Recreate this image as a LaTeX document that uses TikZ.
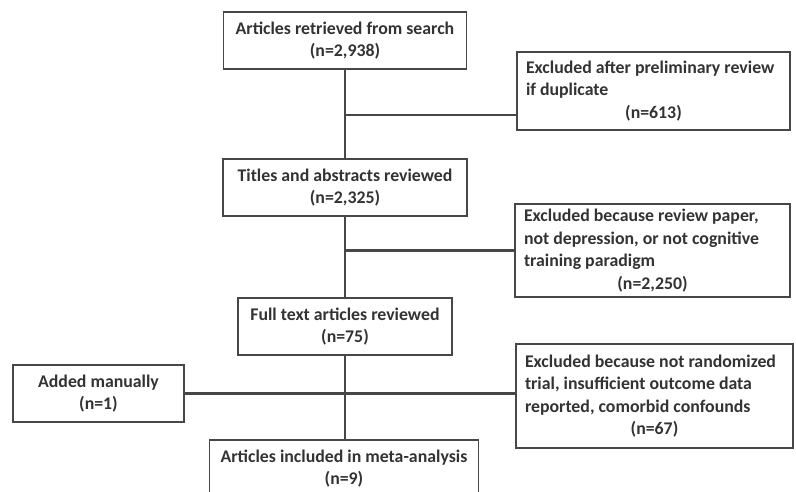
\documentclass[tikz,border=0pt]{standalone}
\usepackage{fontspec}
\setmainfont{Carlito}
\newcommand{\ctrline}[1]{\hspace*{\fill}#1\hspace*{\fill}}
\begin{document}
\begin{tikzpicture}[x=1pt, y=-1pt, color=black!72, line width=2.6pt]
\useasboundingbox (0,0) rectangle (796,491);
   \begin{scope}[every node/.style={rectangle,draw=black!72,line width=1.8pt,fill=white,text=black!80,
        font=\fontsize{17.8}{22.5}\selectfont\bfseries,inner sep=0pt,align=center,minimum height=57pt}]
\node (retrieved) at (345,40.5) [minimum width=243pt] {Articles retrieved from search\\(n=2,938)};
\node (titles) at (345,187.5) [minimum width=244pt] {Titles and abstracts reviewed\\(n=2,325)};
\node (fulltext) at (345,326.5) [minimum width=214pt] {Full text articles reviewed\\(n=75)};
\node (included) at (344,468.5) [minimum width=269pt] {Articles included in meta-analysis\\(n=9)};
\node (added) at (98.5,393.5) [minimum width=171pt] {Added manually\\(n=1)};

\node (dup) at (653.5,91) [text width=255pt,inner xsep=9pt,align=flush left,minimum height=78pt]
   {Excluded after preliminary review\\if duplicate\\\ctrline{(n=613)}};
\node (review) at (652.5,250.5) [text width=257pt,inner xsep=9pt,align=flush left,minimum height=93pt]
   {Excluded because review paper,\\not depression, or not cognitive\\training paradigm\\\ctrline{(n=2,250)}};
\node (random) at (654.5,396) [text width=259pt,inner xsep=9pt,align=flush left,minimum height=104pt]
   {Excluded because not randomized\\trial, insufficient outcome data\\reported, comorbid confounds\\\ctrline{(n=67)}};
  \end{scope}

\coordinate (b1) at (345,115);
\coordinate (b2) at (345,250.5);

\draw (retrieved) -- (titles);
\draw (titles) -- (fulltext);
\draw (fulltext.south) -- (fulltext.south |- included.north);
\draw (b1) -- (b1 -| dup.west);
\draw (b2) -- (review.west);
\draw (added.east) -- (added.east -| random.west);
\end{tikzpicture}
\end{document}
